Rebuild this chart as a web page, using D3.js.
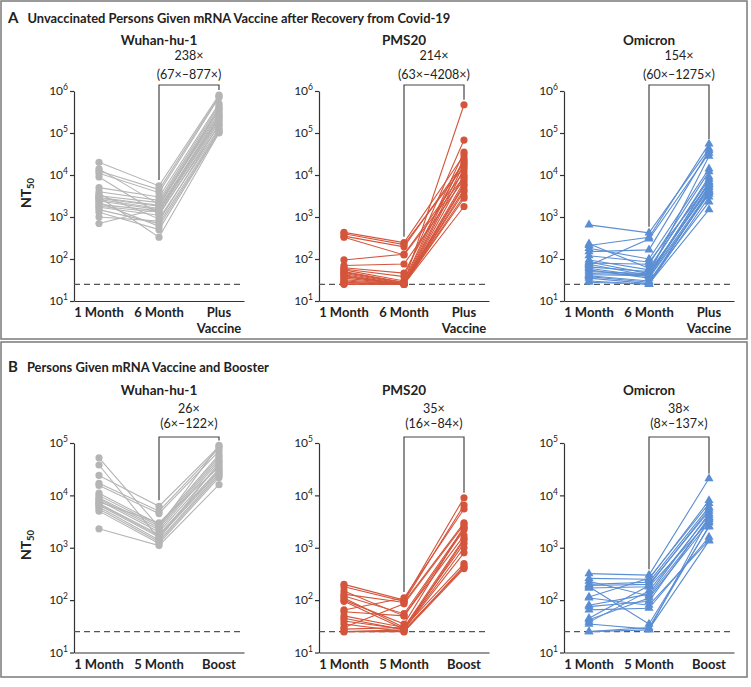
<!DOCTYPE html>
<html><head><meta charset="utf-8">
<script src="https://cdn.jsdelivr.net/npm/d3@7"></script>
<style>body{margin:0;background:#fff}svg{display:block}text{font-family:Lato,"Open Sans",sans-serif;fill:#222}</style>
</head><body><svg id="c" width="751" height="687"></svg>
<script>
// ---------- labels ----------
const titleA = "Unvaccinated Persons Given mRNA Vaccine after Recovery from Covid-19";
const titleB = "Persons Given mRNA Vaccine and Booster";
const timepointsA = ["1 Month", "6 Month", "Plus Vaccine"];
const timepointsB = ["1 Month", "5 Month", "Boost"];
const variants = ["Wuhan-hu-1", "PMS20", "Omicron"];
const foldA = ["238×", "214×", "154×"];
const rangeA = ["(67×–877×)", "(63×–4208×)", "(60×–1275×)"];
const foldB = ["26×", "35×", "38×"];
const rangeB = ["(6×–122×)", "(16×–84×)", "(8×–137×)"];
const ticksA = [1e1, 1e2, 1e3, 1e4, 1e5, 1e6];
const ticksB = [1e1, 1e2, 1e3, 1e4, 1e5];
const limitOfDetection = 25;

// ---------- panel A data (NT50 per participant) ----------
const wuhanA_1m  = [20000,14000,12500,11000,9000,5000,4000,3500,3200,3000,2900,2800,2600,2400,2200,2000,1800,1700,1500,1300,1000,700];
const wuhanA_6m  = [5500,2000,4500,3800,1200,3000,2500,900,2200,330,1900,1800,1600,1500,600,1400,1300,1100,700,500,800,1600];
const wuhanA_vac = [800000,300000,750000,700000,150000,500000,450000,130000,400000,100000,380000,350000,280000,250000,110000,220000,200000,180000,120000,105000,160000,240000];

const pmsA_1m  = [430,400,350,330,95,70,62,58,55,50,48,45,42,40,38,35,32,30,28,27,25,25];
const pmsA_6m  = [245,220,195,125,130,76,46,38,30,28,27,26,25,25,25,25,25,25,25,25,25,25];
const pmsA_vac = [30000,16000,20000,9000,12000,8000,22000,68000,35000,25000,470000,18000,14000,10000,7000,5500,4500,4000,3200,2800,1780,6000];

const omiA_1m  = [650,230,210,180,150,120,95,85,80,75,70,65,60,55,50,45,42,40,38,35,30,28];
const omiA_6m  = [420,60,330,100,165,85,55,45,75,40,300,50,38,35,45,42,40,30,28,26,25,25];
const omiA_vac = [42000,8000,55000,14000,38000,6000,9000,5000,12000,7000,33000,4500,4000,3500,28000,6500,5500,2300,3800,1500,3000,4200];

// ---------- panel B data ----------
const wuhanB_1m    = [52000,38000,24000,17000,15500,11000,10000,9000,8500,8000,7500,7000,6800,6500,6000,5500,5000,2300];
const wuhanB_5m    = [2500,1500,6200,5000,4500,2800,2600,2400,2200,2000,3000,1800,1700,1600,1400,1300,1200,1100];
const wuhanB_boost = [90000,42000,85000,80000,70000,60000,55000,50000,45000,38000,35000,32000,30000,28000,26000,24000,22000,16000];

const pmsB_1m    = [200,180,150,130,110,100,95,65,60,50,45,40,35,30,28,25,25,120];
const pmsB_5m    = [100,95,50,90,30,35,28,110,50,30,27,28,25,85,30,25,27,55];
const pmsB_boost = [9000,6500,1700,3000,500,2500,800,5500,2200,1200,420,1000,450,2800,1500,400,1400,2400];

const omiB_1m    = [320,260,230,200,190,180,115,110,80,75,65,45,42,38,35,25,25,170];
const omiB_5m    = [300,250,120,220,200,35,260,80,130,95,70,190,110,150,28,30,27,180];
const omiB_boost = [21000,8000,3500,6000,5000,2500,7000,1400,4500,3800,1600,5500,3000,4200,1350,2600,3700,3200];

const colors = ["#b5b5b5", "#d4553b", "#5b8ed3"];

// ---------- build ----------
const svg = d3.select("#c");
const rows = [
  { letter: "A", title: titleA, cats: timepointsA, ticks: ticksA, folds: foldA, ranges: rangeA,
    series: [[wuhanA_1m, wuhanA_6m, wuhanA_vac], [pmsA_1m, pmsA_6m, pmsA_vac], [omiA_1m, omiA_6m, omiA_vac]],
    box: [1, 1, 746, 338], yTop: 91, yBot: 301, titleY: 23, subY: 45, foldY: 60, rangeY: 79, bracketY: 85, catY: 317, ntY: 193 },
  { letter: "B", title: titleB, cats: timepointsB, ticks: ticksB, folds: foldB, ranges: rangeB,
    series: [[wuhanB_1m, wuhanB_5m, wuhanB_boost], [pmsB_1m, pmsB_5m, pmsB_boost], [omiB_1m, omiB_5m, omiB_boost]],
    box: [1, 342, 746, 335], yTop: 443, yBot: 652.5, titleY: 372, subY: 395, foldY: 413, rangeY: 428, bracketY: 437, catY: 669, ntY: 545 }
];

rows.forEach(row => {
  svg.append("rect").attr("x", row.box[0]).attr("y", row.box[1]).attr("width", row.box[2]).attr("height", row.box[3])
    .attr("fill", "none").attr("stroke", "#7a7a7a").attr("stroke-width", 1.5);
  const t = svg.append("text").attr("x", 8).attr("y", row.titleY).attr("font-weight", "bold").attr("font-size", 12.9);
  t.append("tspan").text(row.letter).attr("font-size", 15);
  t.append("tspan").attr("dx", 9).text(row.title);

  const nt = svg.append("text").attr("transform", `translate(31,${row.ntY}) rotate(-90)`)
    .attr("text-anchor", "middle").attr("font-weight", "bold").attr("font-size", 14);
  nt.append("tspan").text("NT");
  nt.append("tspan").attr("dy", 3).attr("font-size", 9.5).text("50");

  const y = d3.scaleLog().domain([row.ticks[0], row.ticks[row.ticks.length - 1]]).range([row.yBot, row.yTop]);

  variants.forEach((v, col) => {
    const x0 = 74 + 245 * col;
    const x = d3.scalePoint().domain(row.cats).range([x0, x0 + 170]).padding(0.4167);
    const g = svg.append("g");
    const color = colors[col];
    const [s1, s2, s3] = row.series[col];

    // subtitle
    g.append("text").attr("x", x(row.cats[1])).attr("y", row.subY).attr("text-anchor", "middle")
      .attr("font-weight", "bold").attr("font-size", 13.5).text(v);

    // y axis
    const ya = g.append("g").attr("transform", `translate(${x0},0)`)
      .call(d3.axisLeft(y).tickValues(row.ticks).tickSize(4).tickSizeOuter(0).tickFormat(""));
    ya.select(".domain").attr("stroke", "#333").attr("stroke-width", 1.2);
    ya.selectAll(".tick line").attr("stroke", "#333").attr("stroke-width", 1.2);
    ya.selectAll(".tick").each(function(d) {
      const tx = d3.select(this).append("text").attr("x", -6).attr("dy", "0.32em")
        .attr("text-anchor", "end").attr("font-size", 12).style("fill", "#222");
      tx.append("tspan").text("10");
      tx.append("tspan").attr("dy", -5).attr("font-size", 8.5).text(Math.round(Math.log10(d)));
    });

    // x axis
    const xa = g.append("g").attr("transform", `translate(0,${row.yBot})`)
      .call(d3.axisBottom(x).tickSize(0).tickSizeOuter(0).tickFormat(""));
    xa.select(".domain").attr("stroke", "#333").attr("stroke-width", 1.2);
    row.cats.forEach(c => {
      const words = c === "Plus Vaccine" ? ["Plus", "Vaccine"] : [c];
      words.forEach((w, i) => g.append("text").attr("x", x(c)).attr("y", row.catY + i * 16)
        .attr("text-anchor", "middle").attr("font-weight", "bold").attr("font-size", 13).text(w));
    });

    // dashed limit line
    g.append("line").attr("x1", x0).attr("x2", x0 + 170).attr("y1", y(limitOfDetection)).attr("y2", y(limitOfDetection))
      .attr("stroke", "#555").attr("stroke-width", 1.2).attr("stroke-dasharray", "6,4");

    // bracket
    const bx1 = x(row.cats[1]), bx2 = x(row.cats[2]);
    const leftEnd = y(d3.max(s2)) - 6, rightEnd = y(d3.max(s3)) - 5;
    g.append("path").attr("d", `M${bx1},${leftEnd}V${row.bracketY}H${bx2}V${rightEnd}`)
      .attr("fill", "none").attr("stroke", "#444").attr("stroke-width", 1.2);
    const mid = (bx1 + bx2) / 2;
    g.append("text").attr("x", mid).attr("y", row.foldY).attr("text-anchor", "middle").attr("font-size", 12.5).text(row.folds[col]);
    g.append("text").attr("x", mid).attr("y", row.rangeY).attr("text-anchor", "middle").attr("font-size", 12.5).text(row.ranges[col]);

    // participant lines
    const people = s1.map((d, i) => [s1[i], s2[i], s3[i]]);
    const line = d3.line().x((d, i) => x(row.cats[i])).y(d => y(d));
    g.append("g").selectAll("path").data(people).join("path")
      .attr("d", line).attr("fill", "none").attr("stroke", color).attr("stroke-width", 1.1);

    // markers
    const pts = [];
    people.forEach(p => p.forEach((d, i) => pts.push({ c: row.cats[i], v: d })));
    const mg = g.append("g");
    if (col === 2) {
      const sym = d3.symbol(d3.symbolTriangle, 36);
      mg.selectAll("path").data(pts).join("path").attr("d", sym)
        .attr("transform", d => `translate(${x(d.c)},${y(d.v)})`).attr("fill", color);
    } else {
      mg.selectAll("circle").data(pts).join("circle")
        .attr("cx", d => x(d.c)).attr("cy", d => y(d.v)).attr("r", 3.6).attr("fill", color);
    }
  });
});
</script></body></html>
